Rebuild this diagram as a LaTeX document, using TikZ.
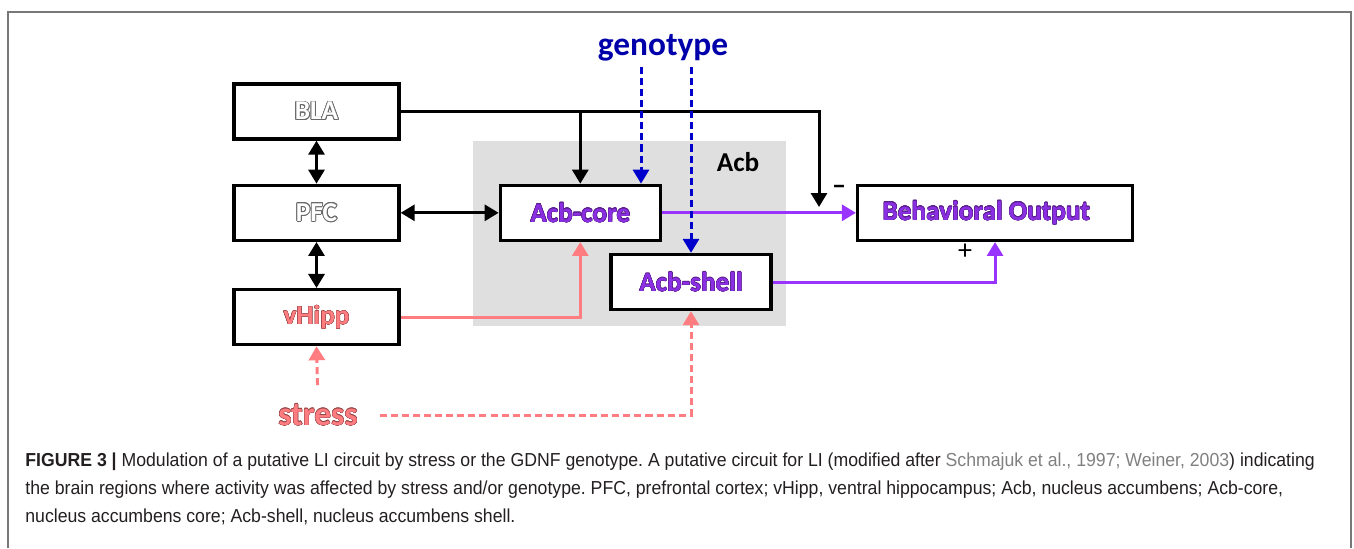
\documentclass[tikz,border=0pt]{standalone}
\usepackage{fontspec}
\usepackage{tikz}
\usetikzlibrary{positioning, arrows.meta, calc}
\usepackage{contour}
\usepackage{xcolor}
\newfontfamily\diagfont{Carlito}
\newfontfamily\capfont[FakeStretch=0.94]{Liberation Sans}
\definecolor{salmon}{RGB}{255,124,128}
\definecolor{salmonedge}{RGB}{150,70,70}
\definecolor{acbpurple}{RGB}{138,48,226}
\definecolor{purpleedge}{RGB}{90,30,140}
\definecolor{purpleline}{RGB}{153,51,255}
\definecolor{genoblue}{RGB}{0,0,170}
\definecolor{genoline}{RGB}{0,0,204}
\definecolor{acbgray}{RGB}{223,223,223}
\definecolor{framegray}{RGB}{120,120,120}
\definecolor{hollowgray}{RGB}{105,105,105}
\definecolor{captext}{RGB}{35,31,32}
\definecolor{citegray}{RGB}{128,128,128}
\newcommand{\hollow}[1]{{\contourlength{0.5pt}\color{white}\contour{hollowgray}{#1}}}
\newcommand{\edged}[3]{{\contourlength{0.18pt}\color{#1}\contour{#2}{#3}}}

\begin{document}
\frenchspacing
\begin{tikzpicture}[
        x=0.02cm, y=0.02cm,
        node distance=0.86cm and 1.96cm,
        region/.style={rectangle, fill=acbgray, minimum width=6.26cm, minimum height=3.7cm, inner sep=0pt},
        block/.style={rectangle, draw=black, line width=1.9pt, fill=white, minimum width=3.3cm, minimum height=1.1cm, inner sep=0pt, font=\diagfont\bfseries\fontsize{15.5}{18}\selectfont},
        source/.style={inner sep=1pt, font=\diagfont\bfseries\fontsize{19}{22}\selectfont},
        sign/.style={inner sep=0pt, font=\diagfont\fontsize{16}{18}\selectfont},
        caption/.style={anchor=base west, inner sep=0pt, text=captext, font=\capfont\fontsize{10.7}{15.9}\selectfont},
        arrow/.style={-{Triangle[length=0.28cm, width=0.32cm]}, line width=1.7pt, draw=black},
        biarrow/.style={{Triangle[length=0.28cm, width=0.32cm]}-{Triangle[length=0.28cm, width=0.32cm]}, line width=1.7pt, draw=black},
        purplearrow/.style={arrow, draw=purpleline},
        salmonarrow/.style={arrow, draw=salmon},
        bluedash/.style={arrow, draw=genoline, dash pattern=on 4pt off 2.3pt},
        salmondash/.style={arrow, draw=salmon, dash pattern=on 4pt off 2.3pt}
    ]
    \useasboundingbox (0,0) rectangle (1354,-548);
    \draw[framegray, line width=0.9pt] (8,-548) -- (8,-12) -- (1351,-12) -- (1351,-548);

    \node[region] (acb) at (629.5,-233.5) {};
    \node[font=\diagfont\bfseries\fontsize{15.5}{18}\selectfont] (acblabel) at (738,-162) {Acb};

    \node[block] (bla) at (316.5,-111.5) {\hollow{BLA}};
    \node[block, below=of bla] (pfc) {\hollow{PFC}};
    \node[block, below=0.92cm of pfc] (vhipp) {\edged{salmon}{salmonedge}{vHipp}};
    \node[block, right=of pfc, minimum width=3.2cm] (core) {\edged{acbpurple}{purpleedge}{Acb-core}};
    \node[block, minimum width=3.2cm] (shell) at (691,-282) {\edged{acbpurple}{purpleedge}{Acb-shell}};
    \node[block, right=3.88cm of core, minimum width=5.5cm] (output) {\edged{acbpurple}{purpleedge}{Behavioral Output}\hspace*{0.35cm}};

    \node[source, text=genoblue] (genotype) at (663,-48) {genotype};
    \node[source] (stress) at (318,-415) {\edged{salmon}{salmonedge}{stress}};
    \node[sign, font=\diagfont\bfseries\fontsize{16}{18}\selectfont] (minus) at (839,-190) {–};
    \node[sign] (plus) at (965,-252) {+};

    \coordinate (blatap) at (819,-207);
    \coordinate (genotap) at (641,-67);

    \draw[biarrow] (bla) -- (pfc);
    \draw[biarrow] (pfc) -- (vhipp);
    \draw[biarrow] (pfc) -- (core);
    \draw[arrow] (bla.east) -| (blatap);
    \draw[arrow] (bla.east -| core.north) -- (core.north);
    \draw[purplearrow] (core) -- (output);
    \draw[purplearrow] (shell.east) -| (output.south);
    \draw[salmonarrow] (vhipp.east) -| (core.south);
    \draw[bluedash] (genotap) -- (genotap |- core.north);
    \draw[bluedash] (genotap -| shell.north) -- (shell.north);
    \draw[salmondash, shorten <=0.34cm] (stress.north) -- (vhipp.south);
    \draw[salmondash, shorten <=0.4cm] (stress.east) -| (shell.south);

    \node[caption] (caption1) at (25,-466) {\textbf{FIGURE 3 |} Modulation of a putative LI circuit by stress or the GDNF genotype. A putative circuit for LI (modified after {\color{citegray}Schmajuk et al., 1997; Weiner, 2003}) indicating};
    \node[caption] (caption2) at (25,-494) {the brain regions where activity was affected by stress and/or genotype. PFC, prefrontal cortex; vHipp, ventral hippocampus; Acb, nucleus accumbens; Acb-core,};
    \node[caption] (caption3) at (25,-522) {nucleus accumbens core; Acb-shell, nucleus accumbens shell.};
\end{tikzpicture}
\end{document}
